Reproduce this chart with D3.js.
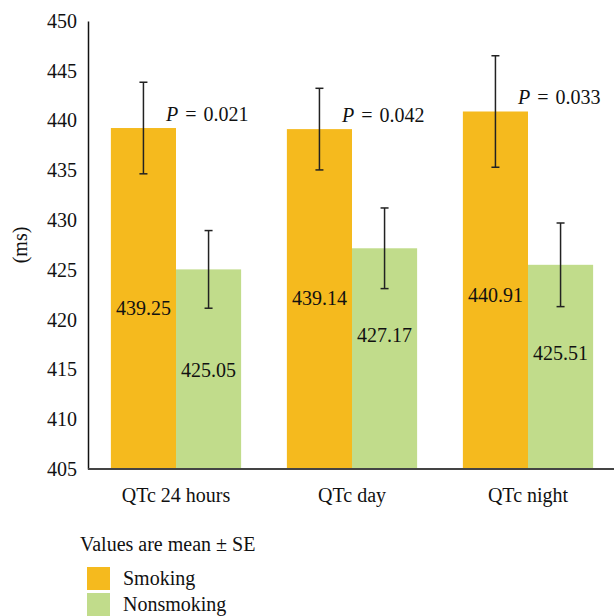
<!DOCTYPE html>
<html>
<head>
<meta charset="utf-8">
<script src="https://d3js.org/d3.v7.min.js"></script>
<style>
  body { margin: 0; background: #fff; }
  text { font-family: "Liberation Serif", "DejaVu Serif", serif; fill: #111; }
</style>
</head>
<body>
<svg id="chart" width="614" height="616"></svg>
<script>
var categories = ["QTc 24 hours", "QTc day", "QTc night"];
var groups = ["Smoking", "Nonsmoking"];
var smoking = [439.25, 439.14, 440.91];
var nonsmoking = [425.05, 427.17, 425.51];
var smokingSE = [4.6, 4.1, 5.6];
var nonsmokingSE = [3.9, 4.05, 4.2];
// where the value labels sit inside the bars (ms)
var smokingLabelAt = [421.2, 422.2, 422.5];
var nonsmokingLabelAt = [414.9, 418.5, 416.7];
var pValues = ["0.021", "0.042", "0.033"];
var yTicks = [405, 410, 415, 420, 425, 430, 435, 440, 445, 450];
var colors = ["#F5BA1E", "#C1DC8B"];

var FS = "20px";
var svg = d3.select("#chart");

var x0 = d3.scaleBand().domain(categories).range([88, 616]).paddingInner(0.26).paddingOuter(0.13);
var x1 = d3.scaleBand().domain(groups).range([0, x0.bandwidth()]);
var y = d3.scaleLinear().domain([405, 450]).range([469, 21]);

var rows = categories.map(function(c, i) {
    return [
        {cat: c, grp: groups[0], v: smoking[i], se: smokingSE[i], lab: smokingLabelAt[i], color: colors[0]},
        {cat: c, grp: groups[1], v: nonsmoking[i], se: nonsmokingSE[i], lab: nonsmokingLabelAt[i], color: colors[1]}
    ];
});
var flat = d3.merge(rows);

function cx(d) { return x0(d.cat) + x1(d.grp) + x1.bandwidth() / 2; }

// bars
svg.append("g").selectAll("rect")
    .data(flat)
    .enter().append("rect")
    .attr("x", function(d) { return x0(d.cat) + x1(d.grp); })
    .attr("y", function(d) { return y(d.v); })
    .attr("width", x1.bandwidth())
    .attr("height", function(d) { return y(405) - y(d.v); })
    .style("fill", function(d) { return d.color; });

// error bars
var eb = svg.append("g").selectAll("g").data(flat).enter().append("g")
    .style("stroke", "#222").style("stroke-width", 1.5);
eb.append("line")
    .attr("x1", cx).attr("x2", cx)
    .attr("y1", function(d) { return y(d.v + d.se); })
    .attr("y2", function(d) { return y(d.v - d.se); });
eb.append("line")
    .attr("x1", function(d) { return cx(d) - 4; }).attr("x2", function(d) { return cx(d) + 4; })
    .attr("y1", function(d) { return y(d.v + d.se); })
    .attr("y2", function(d) { return y(d.v + d.se); });
eb.append("line")
    .attr("x1", function(d) { return cx(d) - 4; }).attr("x2", function(d) { return cx(d) + 4; })
    .attr("y1", function(d) { return y(d.v - d.se); })
    .attr("y2", function(d) { return y(d.v - d.se); });

// value labels
svg.append("g").selectAll("text")
    .data(flat)
    .enter().append("text")
    .attr("x", cx)
    .attr("y", function(d) { return y(d.lab); })
    .attr("text-anchor", "middle")
    .attr("dominant-baseline", "central")
    .style("font-size", FS)
    .text(function(d) { return d.v.toFixed(2); });

// P values
var pt = svg.append("g").selectAll("text")
    .data(categories)
    .enter().append("text")
    .attr("x", function(d) { return x0(d) + x0.bandwidth() / 2 - 10; })
    .attr("y", function(d, i) { return y(smoking[i]) - 7; })
    .style("font-size", FS)
    .style("word-spacing", "2px");
pt.append("tspan").style("font-style", "italic").text("P");
pt.append("tspan").text(function(d, i) { return " = " + pValues[i]; });

// y axis
var yAxis = svg.append("g")
    .attr("transform", "translate(88,0)")
    .call(d3.axisLeft(y).tickValues(yTicks).tickSize(0).tickPadding(11).tickFormat(d3.format("d")));
yAxis.select(".domain").attr("stroke", "#111").attr("stroke-width", 1.5);
yAxis.selectAll("text").style("font-size", FS).style("font-family", "Liberation Serif").attr("fill", "#111");

// x axis
var xAxis = svg.append("g")
    .attr("transform", "translate(0,469)")
    .call(d3.axisBottom(x0).tickSize(0).tickPadding(19));
xAxis.select(".domain").remove();
xAxis.append("line").attr("x1", 88).attr("x2", 614).attr("y1", 0).attr("y2", 0)
    .attr("stroke", "#444").attr("stroke-width", 2);
xAxis.selectAll("text").style("font-size", FS).style("font-family", "Liberation Serif").attr("fill", "#111");

// y title
svg.append("text")
    .attr("transform", "translate(27,245) rotate(-90)")
    .attr("text-anchor", "middle")
    .style("font-size", FS)
    .text("(ms)");

// note + legend
svg.append("text").attr("x", 80).attr("y", 551).style("font-size", FS).text("Values are mean \u00b1 SE");

var leg = svg.append("g").selectAll("g").data(groups).enter().append("g")
    .attr("transform", function(d, i) { return "translate(87," + (567 + i * 26) + ")"; });
leg.append("rect").attr("width", 23).attr("height", 23)
    .style("fill", function(d, i) { return colors[i]; });
leg.append("text").attr("x", 36).attr("y", 18).style("font-size", FS).text(function(d) { return d; });
</script>
</body>
</html>
